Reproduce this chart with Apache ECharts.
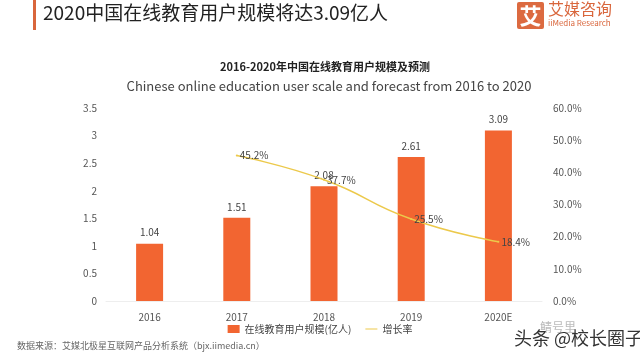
<!DOCTYPE html>
<html><head><meta charset="utf-8">
<script src="https://cdn.jsdelivr.net/npm/echarts@6/dist/echarts.min.js"></script>
<style>html,body{margin:0;padding:0;background:#fff}#c{width:640px;height:361px}</style>
</head><body><div id="c"></div>
<script>
const categories = ['2016','2017','2018','2019','2020E'];
const userScale = [1.04, 1.51, 2.08, 2.61, 3.09];
const growthRate = [null, 45.2, 37.7, 25.5, 18.4];
const leftTicks = [0, 0.5, 1, 1.5, 2, 2.5, 3, 3.5];
const rightTicks = [0, 10, 20, 30, 40, 50, 60];

const chart = echarts.init(document.getElementById('c'));
const font = '"Microsoft YaHei","Noto Sans CJK SC","Noto Sans",sans-serif';
chart.setOption({
  animation: false,
  textStyle: {fontFamily: font},
  graphic: [
    {type:'rect', shape:{x:33,y:0,width:3,height:30}, style:{fill:'#d9663c'}},
    {type:'text', left:43, top:3, style:{text:'2020中国在线教育用户规模将达3.09亿人', font:'19px '+font, fill:'#222'}},
    {type:'rect', shape:{x:517,y:2,width:27,height:27,r:2}, style:{fill:'#dc6a40'}},
    {type:'text', x:530.5, y:15.5, style:{text:'艾', font:'bold 22px '+font, fill:'#fff', align:'center', verticalAlign:'middle'}},
    {type:'text', left:548, top:1, style:{text:'艾媒咨询', font:'16px '+font, fill:'#d9663c'}},
    {type:'text', left:548, top:19, style:{text:'iiMedia Research', font:'8px '+font, fill:'#d9663c'}},
    {type:'text', x:325, y:67, style:{text:'2016-2020年中国在线教育用户规模及预测', font:'bold 11px '+font, fill:'#222', align:'center', verticalAlign:'middle'}},
    {type:'text', x:329, y:86, style:{text:'Chinese online education user scale and forecast from 2016 to 2020', font:'13px '+font, fill:'#444', align:'center', verticalAlign:'middle'}},
    {type:'text', left:17, top:341, style:{text:'数据来源：艾媒北极星互联网产品分析系统（bjx.iimedia.cn）', font:'9px '+font, fill:'#666'}},
    {type:'text', left:540, top:321, style:{text:'鲭号里', font:'12px '+font, fill:'#bbb'}},
    {type:'text', left:514, top:329, style:{text:'头条 @校长圈子', font:'18px '+font, fill:'#333'}}
  ],
  grid: {left:106, right:98, top:108, bottom:60},
  legend: {
    bottom: 22, left: 'center', itemWidth: 12, itemHeight: 8, itemGap: 14,
    textStyle: {fontSize: 10, color: '#444'},
    data: [{name:'在线教育用户规模(亿人)', icon:'rect'},
           {name:'增长率', icon:'path://M0,0h24v2h-24z', itemStyle:{color:'#ecc94b', opacity:1}}]
  },
  xAxis: {
    type: 'category', data: categories,
    axisLine: {show:true, lineStyle:{color:'#eee'}}, axisTick:{show:false},
    axisLabel: {color:'#555', fontSize:10, margin:11}
  },
  yAxis: [
    {type:'value', min:leftTicks[0], max:leftTicks[leftTicks.length-1], interval:0.5,
     splitLine:{show:false}, axisLine:{show:false}, axisTick:{show:false},
     axisLabel:{color:'#555', fontSize:10, margin:9}},
    {type:'value', min:rightTicks[0], max:rightTicks[rightTicks.length-1], interval:10,
     splitLine:{show:false}, axisLine:{show:false}, axisTick:{show:false},
     axisLabel:{color:'#555', fontSize:10, margin:11, formatter: v => v.toFixed(1)+'%'}}
  ],
  series: [
    {name:'在线教育用户规模(亿人)', type:'bar', data:userScale, barWidth:27,
     itemStyle:{color:'#f26531'},
     label:{show:true, position:'top', color:'#444', fontSize:10, distance:6}},
    {name:'增长率', type:'line', yAxisIndex:1, data:growthRate, smooth:true,
     showSymbol:true, symbol:'circle', symbolSize:2, connectNulls:false,
     lineStyle:{color:'#ecc94b', width:1.5}, itemStyle:{color:'#ecc94b'},
     label:{show:true, position:'right', distance:2, color:'#444', fontSize:10, formatter: p => p.value.toFixed(1)+'%'}}
  ]
});
</script></body></html>
